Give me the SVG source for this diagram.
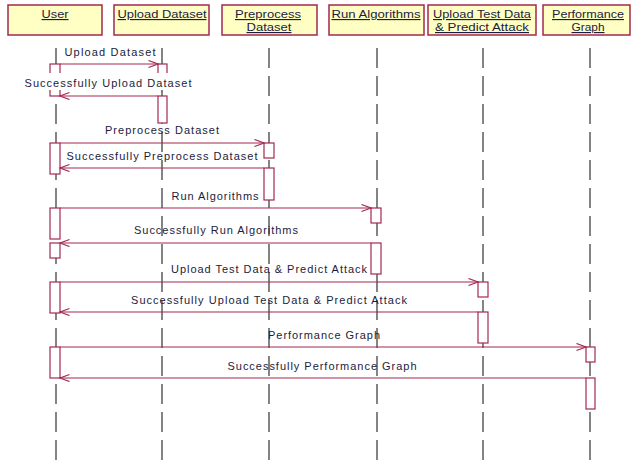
<svg xmlns="http://www.w3.org/2000/svg" width="631" height="461" viewBox="0 0 631 461">
<style>
.hdr{fill:#FFFFC4;stroke:#A3284F;stroke-width:1.5}
.ht{font-family:"Liberation Sans",Arial,sans-serif;font-size:11.5px;fill:#1c1c3c;text-anchor:middle;text-decoration:underline}
.life{stroke:#333;stroke-width:1.2;stroke-dasharray:20 8;fill:none}
.act{fill:#fff;stroke:#A3284F;stroke-width:1.2}
.msg{stroke:#A3284F;stroke-width:1.2;fill:none;marker-end:url(#arr)}
.ml{font-family:"Liberation Sans",Arial,sans-serif;font-size:11px;fill:#1c1c3c;text-anchor:middle}
</style>
<defs>
<marker id="arr" markerWidth="12" markerHeight="10" refX="10" refY="4" orient="auto" markerUnits="userSpaceOnUse">
<path d="M0.5,0.5 L10,4 L0.5,7.5" fill="none" stroke="#A3284F" stroke-width="1.2"/>
</marker>
</defs>
<rect width="631" height="461" fill="#fff"/>

<g id="user">
<rect class="hdr" x="8" y="5" width="94" height="30"/>
<text class="ht" x="55" y="18" textLength="27" lengthAdjust="spacingAndGlyphs">User</text>
<line class="life" x1="56" y1="48" x2="56" y2="461"/>
</g>
<g id="upload-dataset">
<rect class="hdr" x="114" y="5" width="95" height="30"/>
<text class="ht" x="162" y="18" textLength="89" lengthAdjust="spacingAndGlyphs">Upload Dataset</text>
<line class="life" x1="162" y1="48" x2="162" y2="461"/>
</g>
<g id="preprocess-dataset">
<rect class="hdr" x="222" y="5" width="95" height="30"/>
<text class="ht" x="268" y="18" textLength="66" lengthAdjust="spacingAndGlyphs">Preprocess </text>
<text class="ht" x="269" y="31" textLength="45" lengthAdjust="spacingAndGlyphs">Dataset</text>
<line class="life" x1="269" y1="48" x2="269" y2="461"/>
</g>
<g id="run-algorithms">
<rect class="hdr" x="329" y="5" width="95" height="30"/>
<text class="ht" x="376" y="18" textLength="89" lengthAdjust="spacingAndGlyphs">Run Algorithms</text>
<line class="life" x1="377" y1="48" x2="377" y2="461"/>
</g>
<g id="upload-test-data">
<rect class="hdr" x="428" y="5" width="108" height="30"/>
<text class="ht" x="482" y="18" textLength="98" lengthAdjust="spacingAndGlyphs">Upload Test Data</text>
<text class="ht" x="482" y="31" textLength="94" lengthAdjust="spacingAndGlyphs">&amp; Predict Attack</text>
<line class="life" x1="483" y1="48" x2="483" y2="461"/>
</g>
<g id="performance-graph">
<rect class="hdr" x="543" y="5" width="87" height="30"/>
<text class="ht" x="588" y="18" textLength="72" lengthAdjust="spacingAndGlyphs">Performance</text>
<text class="ht" x="588" y="31" textLength="33" lengthAdjust="spacingAndGlyphs">Graph</text>
<line class="life" x1="590" y1="48" x2="590" y2="461"/>
</g>

<g id="activations">
<rect class="act" x="50" y="64" width="10" height="32"/>
<rect class="act" x="158" y="64" width="9" height="15"/>
<rect class="act" x="158" y="96" width="9" height="27"/>
<rect class="act" x="50" y="143" width="10" height="31"/>
<rect class="act" x="264" y="143" width="10" height="15"/>
<rect class="act" x="264" y="168" width="10" height="32"/>
<rect class="act" x="50" y="208" width="10" height="31"/>
<rect class="act" x="371" y="208" width="10" height="15"/>
<rect class="act" x="50" y="243" width="10" height="15"/>
<rect class="act" x="371" y="243" width="10" height="31"/>
<rect class="act" x="50" y="282" width="10" height="31"/>
<rect class="act" x="478" y="282" width="10" height="15"/>
<rect class="act" x="478" y="312" width="10" height="31"/>
<rect class="act" x="50" y="347" width="10" height="31"/>
<rect class="act" x="586" y="347" width="9" height="15"/>
<rect class="act" x="586" y="378" width="9" height="31"/>
</g>

<g id="connectors">
<line class="msg" x1="60" y1="64" x2="158" y2="64"/>
<line class="msg" x1="158" y1="96" x2="60" y2="96"/>
<line class="msg" x1="60" y1="143" x2="264" y2="143"/>
<line class="msg" x1="264" y1="168" x2="60" y2="168"/>
<line class="msg" x1="60" y1="208" x2="371" y2="208"/>
<line class="msg" x1="371" y1="243" x2="60" y2="243"/>
<line class="msg" x1="60" y1="282" x2="478" y2="282"/>
<line class="msg" x1="478" y1="312" x2="60" y2="312"/>
<line class="msg" x1="60" y1="347" x2="586" y2="347"/>
<line class="msg" x1="586" y1="378" x2="60" y2="378"/>
</g>

<g id="labels">
<text class="ml" x="110" y="56" textLength="91" lengthAdjust="spacing">Upload Dataset</text>
<rect x="24" y="73" width="170" height="17" fill="#fff"/>
<text class="ml" x="108" y="87" textLength="167" lengthAdjust="spacing">Successfully Upload Dataset</text>
<text class="ml" x="162" y="134" textLength="114" lengthAdjust="spacing">Preprocess Dataset</text>
<text class="ml" x="162" y="160" textLength="191" lengthAdjust="spacing">Successfully Preprocess Dataset</text>
<text class="ml" x="215" y="200" textLength="87" lengthAdjust="spacing">Run Algorithms</text>
<text class="ml" x="216" y="234" textLength="164" lengthAdjust="spacing">Successfully Run Algorithms</text>
<text class="ml" x="269" y="273" textLength="196" lengthAdjust="spacing">Upload Test Data &amp; Predict Attack</text>
<text class="ml" x="269" y="304" textLength="276" lengthAdjust="spacing">Successfully Upload Test Data &amp; Predict Attack</text>
<text class="ml" x="324" y="339" textLength="112" lengthAdjust="spacing">Performance Graph</text>
<text class="ml" x="322" y="370" textLength="189" lengthAdjust="spacing">Successfully Performance Graph</text>
</g>
</svg>
